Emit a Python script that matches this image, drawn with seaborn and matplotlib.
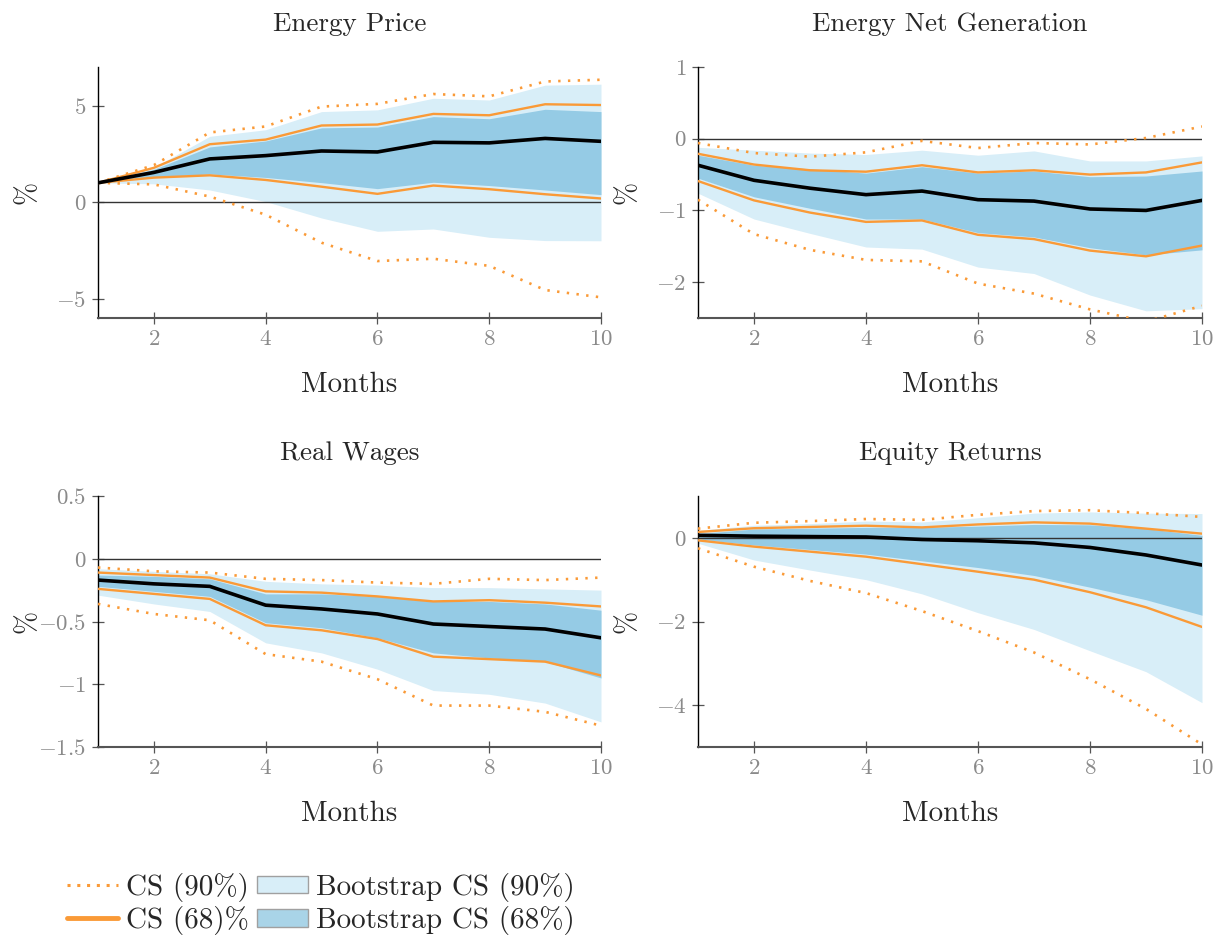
import numpy as np
import pandas as pd
import matplotlib
matplotlib.use("Agg")
import matplotlib.pyplot as plt
from matplotlib.lines import Line2D
from matplotlib.patches import Patch
from matplotlib.ticker import FuncFormatter
import seaborn as sns

months = [1, 2, 3, 4, 5, 6, 7, 8, 9, 10]

# Energy Price
price_median = [1.0, 1.54, 2.24, 2.41, 2.65, 2.60, 3.10, 3.07, 3.30, 3.15]
price_cs68_hi = [1.0, 1.78, 3.00, 3.24, 3.97, 4.02, 4.57, 4.50, 5.07, 5.03]
price_cs68_lo = [1.0, 1.27, 1.39, 1.15, 0.80, 0.43, 0.86, 0.67, 0.41, 0.19]
price_cs90_hi = [1.0, 1.92, 3.61, 3.92, 4.95, 5.09, 5.60, 5.48, 6.25, 6.34]
price_cs90_lo = [1.0, 0.92, 0.29, -0.65, -2.10, -3.05, -2.93, -3.30, -4.55, -4.93]
price_bs90_hi = [1.0, 1.80, 3.41, 3.75, 4.69, 4.78, 5.38, 5.29, 6.06, 6.11]
price_bs90_lo = [1.0, 0.95, 0.63, 0.03, -0.82, -1.51, -1.39, -1.82, -1.99, -2.00]
price_bs68_hi = [1.0, 1.70, 2.86, 3.17, 3.85, 3.89, 4.43, 4.32, 4.81, 4.69]
price_bs68_lo = [1.0, 1.30, 1.46, 1.28, 1.01, 0.70, 1.03, 0.86, 0.63, 0.39]

# Energy Net Generation
gen_median = [-0.37, -0.58, -0.69, -0.78, -0.73, -0.85, -0.87, -0.98, -1.00, -0.86]
gen_cs68_hi = [-0.21, -0.36, -0.44, -0.46, -0.37, -0.47, -0.44, -0.50, -0.47, -0.33]
gen_cs68_lo = [-0.59, -0.86, -1.03, -1.16, -1.14, -1.34, -1.40, -1.56, -1.64, -1.49]
gen_cs90_hi = [-0.06, -0.20, -0.25, -0.19, -0.03, -0.13, -0.06, -0.08, 0.01, 0.17]
gen_cs90_lo = [-0.85, -1.33, -1.55, -1.69, -1.71, -2.02, -2.16, -2.38, -2.55, -2.33]
gen_bs90_hi = [-0.12, -0.16, -0.20, -0.22, -0.16, -0.23, -0.17, -0.31, -0.31, -0.24]
gen_bs90_lo = [-0.76, -1.12, -1.32, -1.51, -1.54, -1.79, -1.88, -2.18, -2.40, -2.37]
gen_bs68_hi = [-0.23, -0.37, -0.42, -0.48, -0.39, -0.48, -0.45, -0.53, -0.52, -0.45]
gen_bs68_lo = [-0.55, -0.81, -0.97, -1.12, -1.12, -1.31, -1.37, -1.52, -1.62, -1.55]

# Real Wages
wage_median = [-0.17, -0.20, -0.22, -0.37, -0.40, -0.44, -0.52, -0.54, -0.56, -0.63]
wage_cs68_hi = [-0.11, -0.13, -0.15, -0.26, -0.27, -0.30, -0.34, -0.33, -0.35, -0.38]
wage_cs68_lo = [-0.24, -0.28, -0.32, -0.53, -0.57, -0.64, -0.78, -0.80, -0.82, -0.93]
wage_cs90_hi = [-0.07, -0.10, -0.11, -0.16, -0.17, -0.19, -0.20, -0.16, -0.17, -0.15]
wage_cs90_lo = [-0.36, -0.44, -0.49, -0.76, -0.82, -0.96, -1.17, -1.17, -1.22, -1.33]
wage_bs90_hi = [-0.08, -0.10, -0.12, -0.18, -0.20, -0.21, -0.23, -0.23, -0.24, -0.25]
wage_bs90_lo = [-0.29, -0.36, -0.42, -0.67, -0.75, -0.88, -1.05, -1.08, -1.15, -1.30]
wage_bs68_hi = [-0.13, -0.14, -0.16, -0.28, -0.28, -0.30, -0.34, -0.34, -0.36, -0.41]
wage_bs68_lo = [-0.22, -0.26, -0.30, -0.51, -0.55, -0.63, -0.75, -0.79, -0.82, -0.95]

# Equity Returns
eq_median = [0.06, 0.04, 0.03, 0.02, -0.04, -0.07, -0.12, -0.23, -0.41, -0.65]
eq_cs68_hi = [0.14, 0.23, 0.26, 0.29, 0.25, 0.32, 0.37, 0.34, 0.22, 0.10]
eq_cs68_lo = [-0.06, -0.21, -0.33, -0.45, -0.63, -0.81, -1.00, -1.30, -1.66, -2.13]
eq_cs90_hi = [0.22, 0.36, 0.40, 0.45, 0.43, 0.55, 0.64, 0.66, 0.59, 0.50]
eq_cs90_lo = [-0.25, -0.69, -1.03, -1.32, -1.75, -2.23, -2.74, -3.38, -4.09, -4.94]
eq_bs90_hi = [0.18, 0.30, 0.34, 0.40, 0.38, 0.48, 0.59, 0.62, 0.59, 0.58]
eq_bs90_lo = [-0.13, -0.53, -0.77, -1.00, -1.34, -1.79, -2.19, -2.70, -3.20, -3.94]
eq_bs68_hi = [0.10, 0.21, 0.23, 0.25, 0.25, 0.28, 0.32, 0.31, 0.22, 0.06]
eq_bs68_lo = [-0.03, -0.17, -0.28, -0.39, -0.55, -0.71, -0.90, -1.18, -1.48, -1.85]

titles = ["Energy Price", "Energy Net Generation", "Real Wages", "Equity Returns"]
ylims = [(-6, 7), (-2.5, 1), (-1.5, 0.5), (-5, 1)]
yticks = [[-5, 0, 5], [-2, -1, 0, 1], [-1.5, -1, -0.5, 0, 0.5], [-4, -2, 0]]
xticks = [2, 4, 6, 8, 10]

panels = [
    (price_median, price_cs68_hi, price_cs68_lo, price_cs90_hi, price_cs90_lo,
     price_bs90_hi, price_bs90_lo, price_bs68_hi, price_bs68_lo),
    (gen_median, gen_cs68_hi, gen_cs68_lo, gen_cs90_hi, gen_cs90_lo,
     gen_bs90_hi, gen_bs90_lo, gen_bs68_hi, gen_bs68_lo),
    (wage_median, wage_cs68_hi, wage_cs68_lo, wage_cs90_hi, wage_cs90_lo,
     wage_bs90_hi, wage_bs90_lo, wage_bs68_hi, wage_bs68_lo),
    (eq_median, eq_cs68_hi, eq_cs68_lo, eq_cs90_hi, eq_cs90_lo,
     eq_bs90_hi, eq_bs90_lo, eq_bs68_hi, eq_bs68_lo),
]

ORANGE = "#FA9A37"
LIGHT = "#D8EEF8"
DARK = "#95CBE5"
TICKGRAY = "#8a8a8a"

sns.set_style("ticks")
plt.rcParams["font.family"] = ["cmr10", "DejaVu Serif"]
plt.rcParams["mathtext.fontset"] = "cm"
plt.rcParams["axes.formatter.use_mathtext"] = True
plt.rcParams["axes.unicode_minus"] = False

fig = plt.figure(figsize=(12.21, 9.43), dpi=100)
W, H = 1221, 943
# axes boxes in pixels: left, top, right, bottom
boxes = [(98, 67, 601, 318), (698, 67, 1202, 318),
         (98, 496, 601, 747), (698, 496, 1202, 747)]

fmt = FuncFormatter(lambda v, _: "$%s$" % ("%g" % (round(v, 3) + 0.0)))

for k, (box, data) in enumerate(zip(boxes, panels)):
    l, t, r, b = box
    ax = fig.add_axes([l / W, 1 - b / H, (r - l) / W, (b - t) / H])
    med, c68h, c68l, c90h, c90l, b90h, b90l, b68h, b68l = data

    ax.fill_between(months, b90l, b90h, color=LIGHT, lw=0, zorder=1)
    ax.fill_between(months, b68l, b68h, color=DARK, lw=0, zorder=2)
    ax.axhline(0, color="#333333", lw=1.0, zorder=3)

    df = pd.DataFrame({"month": months, "med": med, "c68h": c68h, "c68l": c68l,
                       "c90h": c90h, "c90l": c90l})
    for col in ["c90h", "c90l"]:
        sns.lineplot(data=df, x="month", y=col, ax=ax, color=ORANGE, lw=1.9,
                     zorder=4, sort=False)
        ax.lines[-1].set_dashes((0.9, 2.8))
        ax.lines[-1].set_dash_capstyle("butt")
    for col in ["c68h", "c68l"]:
        sns.lineplot(data=df, x="month", y=col, ax=ax, color=ORANGE, lw=1.7,
                     zorder=5, sort=False)
    sns.lineplot(data=df, x="month", y="med", ax=ax, color="black", lw=2.6,
                 zorder=6, sort=False)

    ax.set_xlim(1, 10)
    ax.set_ylim(*ylims[k])
    ax.set_xticks(xticks)
    ax.set_yticks(yticks[k])
    ax.xaxis.set_major_formatter(fmt)
    ax.yaxis.set_major_formatter(fmt)
    ax.set_title(titles[k], fontsize=19.5, pad=26)
    ax.set_xlabel("Months", fontsize=21, labelpad=16)
    ax.set_ylabel("%", fontsize=20)
    ax.yaxis.set_label_coords(-0.114, 0.5)

    sns.despine(ax=ax)
    ax.spines["left"].set_color("black")
    ax.spines["left"].set_linewidth(1.0)
    ax.spines["bottom"].set_color("#555555")
    ax.spines["bottom"].set_linewidth(1.5)
    ax.tick_params(direction="inout", length=9, width=0.9, color="#555555",
                   labelcolor=TICKGRAY, labelsize=16.5, pad=4)

handles = [
    Line2D([0], [0], color=ORANGE, lw=2.2, dashes=(1, 2.2), dash_capstyle="butt"),
    Line2D([0], [0], color=ORANGE, lw=3.5),
    Patch(facecolor=LIGHT, edgecolor="#a0a0a0", lw=1.0),
    Patch(facecolor="#A9D4E8", edgecolor="#a0a0a0", lw=1.0),
]
labels = ["CS (90%)", "CS (68)%", "Bootstrap CS (90%)", "Bootstrap CS (68%)"]
fig.legend(handles, labels, ncol=2, loc="upper left",
           bbox_to_anchor=(0.045, 1 - 861 / H), frameon=False, fontsize=21,
           handlelength=1.75, handleheight=0.55, handletextpad=0.3,
           columnspacing=0.25, labelspacing=0.15, borderaxespad=0)

fig.savefig("out.png", dpi=100)
